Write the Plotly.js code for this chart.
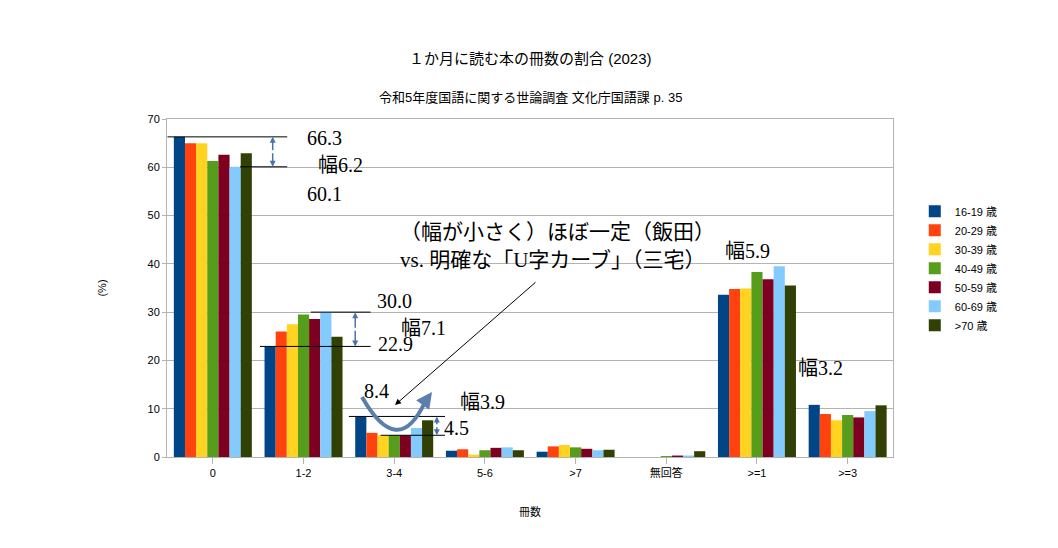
<!DOCTYPE html>
<html><head><meta charset="utf-8">
<script src="https://cdn.plot.ly/plotly-3.0.1.min.js"></script>
<style>body{margin:0;background:#fff}</style>
</head><body>
<div id="chart" style="width:1058px;height:548px"></div>
<script>
var categories = ["0", "1-2", "3-4", "5-6", ">7", "無回答", ">=1", ">=3"];
var seriesNames = ["16-19 歳", "20-29 歳", "30-39 歳", "40-49 歳", "50-59 歳", "60-69 歳", ">70 歳"];
var seriesColors = ["#004586", "#ff420e", "#ffd320", "#579d1c", "#7e0021", "#83caff", "#314004"];
var age16 = [66.3, 22.9, 8.4, 1.3, 1.1, 0.0, 33.6, 10.8];
var age20 = [65.0, 26.0, 5.0, 1.6, 2.2, 0.0, 34.8, 8.9];
var age30 = [65.0, 27.5, 4.5, 0.5, 2.5, 0.0, 34.9, 7.6];
var age40 = [61.3, 29.5, 4.5, 1.4, 2.0, 0.2, 38.3, 8.7];
var age50 = [62.6, 28.6, 4.5, 1.9, 1.7, 0.3, 36.8, 8.2];
var age60 = [60.1, 30.0, 6.0, 2.0, 1.4, 0.3, 39.5, 9.5];
var age70 = [62.9, 24.9, 7.6, 1.4, 1.5, 1.2, 35.5, 10.7];
var allSeries = [age16, age20, age30, age40, age50, age60, age70];

var traces = allSeries.map(function (vals, i) {
    return { x: categories, y: vals, type: 'bar', name: seriesNames[i], marker: { color: seriesColors[i] } };
});

// pixel -> paper helpers
var L = 167, R = 893, T = 119, B = 457;
function px(x) { return (x - L) / (R - L); }
function py(y) { return (B - y) / (B - T); }

var serif = "Liberation Serif, DejaVu Serif, Noto Sans CJK JP";
function txt(x, y, s, size) {
    return { xref: 'paper', yref: 'paper', x: px(x), y: py(y), text: s, showarrow: false,
        font: { family: serif, size: size || 20, color: '#000' } };
}
function hline(x0, x1, v) {
    return { type: 'line', xref: 'x', yref: 'y', x0: x0, x1: x1, y0: v, y1: v, line: { color: '#000', width: 1 } };
}
function dbl(x, y0, y1) {
    return [
        { xref: 'x', yref: 'y', x: x, y: y0, ax: x, ay: (y0 + y1) / 2, axref: 'x', ayref: 'y', showarrow: true, arrowhead: 2, arrowsize: 0.8, arrowwidth: 1.5, arrowcolor: '#4a74a8', text: '' },
        { xref: 'x', yref: 'y', x: x, y: y1, ax: x, ay: (y0 + y1) / 2, axref: 'x', ayref: 'y', showarrow: true, arrowhead: 2, arrowsize: 0.8, arrowwidth: 1.5, arrowcolor: '#4a74a8', text: '' }
    ];
}

var shapes = [
    hline(-0.5, 0.82, 66.3), hline(0.3, 0.82, 60.1),
    hline(1.08, 1.74, 30.0), hline(0.52, 1.74, 22.9),
    hline(1.5, 2.56, 8.4), hline(1.85, 2.56, 4.5),
    { type: 'path', xref: 'paper', yref: 'paper',
      path: 'M ' + px(362) + ' ' + py(397) + ' Q ' + px(398) + ' ' + py(460) + ' ' + px(425) + ' ' + py(402),
      line: { color: '#5b7fad', width: 4 } }
];

var annotations = [
    txt(305, 125, '66.3'), txt(316, 152, '幅6.2'), txt(305, 181, '60.1'),
    txt(375, 301, '30.0'), txt(399, 328, '幅7.1'), txt(376, 357, '22.9'),
    txt(362, 404, '8.4'), txt(482, 415, '幅3.9'), txt(456, 441, '4.5'),
    txt(772, 251, '幅5.9'), txt(845, 381, '幅3.2'),
    txt(557, 232, '（幅が小さく）ほぼ一定（飯田）', 21),
    txt(553, 260, 'vs. 明確な「U字カーブ」（三宅）', 21),
    { xref: 'paper', yref: 'paper', x: px(395), y: py(405), ax: px(537), ay: py(281), axref: 'paper', ayref: 'paper',
      showarrow: true, arrowhead: 2, arrowsize: 1.2, arrowwidth: 1, arrowcolor: '#000', text: '' },
    { xref: 'paper', yref: 'paper', x: px(432), y: py(392), ax: px(422), ay: py(406), axref: 'paper', ayref: 'paper',
      showarrow: true, arrowhead: 2, arrowsize: 0.8, arrowwidth: 4, arrowcolor: '#5b7fad', text: '' },
    { xref: 'paper', yref: 'paper', x: 0.5, y: py(48), text: '１か月に読む本の冊数の割合 (2023)', showarrow: false, font: { size: 15 } },
    { xref: 'paper', yref: 'paper', x: 0.5, y: py(88), text: '令和5年度国語に関する世論調査 文化庁国語課 p. 35', showarrow: false, font: { size: 13 } }
].concat(dbl(0.66, 66.3, 60.1), dbl(1.57, 30.0, 22.9), dbl(2.47, 8.4, 4.5));

var layout = {
    width: 1058, height: 548,
    margin: { l: L, r: 1058 - R, t: T, b: 548 - B },
    paper_bgcolor: '#fff', plot_bgcolor: '#fff',
    font: { family: 'Liberation Sans, Noto Sans CJK JP', size: 11, color: '#000' },
    barmode: 'group', bargap: 0.14, bargroupgap: 0,
    showlegend: true,
    legend: { x: 1.03, y: 0.77, yanchor: 'top', font: { size: 11 }, tracegroupgap: 0 },
    xaxis: { type: 'category', showline: true, linecolor: '#b3b3b3', ticks: 'outside', ticklen: 6, tickcolor: '#b3b3b3',
        title: { text: '冊数', standoff: 30, font: { size: 11 } }, showgrid: false, mirror: true },
    yaxis: { range: [0, 70], dtick: 10, gridcolor: '#b3b3b3', showline: true, linecolor: '#b3b3b3', mirror: true,
        ticks: 'outside', ticklen: 4, tickcolor: '#b3b3b3', zeroline: false,
        title: { text: '(%)', standoff: 38, font: { size: 11 } } },
    shapes: shapes,
    annotations: annotations
};

Plotly.newPlot('chart', traces, layout, { displayModeBar: false, staticPlot: true });
</script>
</body></html>
